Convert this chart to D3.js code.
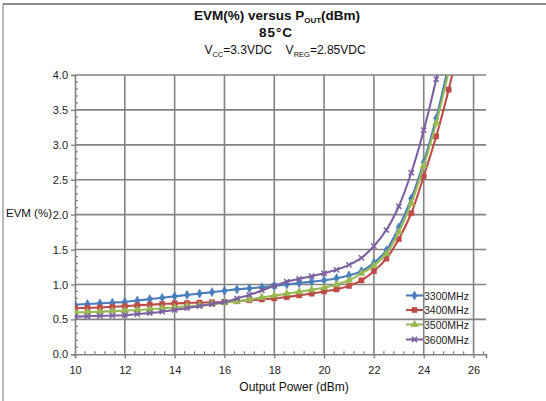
<!DOCTYPE html>
<html><head><meta charset="utf-8">
<script src="https://cdn.jsdelivr.net/npm/d3@7"></script>
<style>
html,body{margin:0;padding:0;background:#fff;}
svg{display:block;font-family:"Liberation Sans",Arial,sans-serif;}
</style></head>
<body><svg id="c" width="546" height="401"></svg>
<script>
const powers = [10,10.5,11,11.5,12,12.5,13,13.5,14,14.5,15,15.5,16,16.5,17,17.5,18,18.5,19,19.5,20,20.5,21,21.5,22,22.5,23,23.5,24,24.5,25,25.5];
const evm3300 = [0.71,0.72,0.73,0.74,0.75,0.77,0.79,0.81,0.83,0.85,0.87,0.89,0.91,0.93,0.945,0.96,0.98,1.0,1.02,1.04,1.06,1.09,1.13,1.19,1.31,1.49,1.82,2.23,2.75,3.38,4.15,null];
const evm3400 = [0.66,0.665,0.67,0.68,0.69,0.70,0.71,0.72,0.73,0.735,0.74,0.745,0.75,0.76,0.775,0.785,0.80,0.82,0.845,0.87,0.90,0.93,0.98,1.06,1.19,1.37,1.65,2.02,2.55,3.12,3.79,4.55];
const evm3500 = [0.60,0.605,0.61,0.62,0.625,0.635,0.645,0.66,0.67,0.69,0.70,0.72,0.74,0.76,0.785,0.815,0.84,0.87,0.895,0.925,0.955,1.0,1.06,1.16,1.27,1.44,1.75,2.16,2.70,3.31,4.05,null];
const evm3600 = [0.54,0.545,0.55,0.555,0.56,0.575,0.59,0.61,0.635,0.66,0.69,0.72,0.75,0.80,0.85,0.915,0.98,1.04,1.08,1.12,1.16,1.21,1.28,1.38,1.55,1.78,2.12,2.60,3.21,3.94,4.8,null];
const seriesNames = ["3300MHz","3400MHz","3500MHz","3600MHz"];
const seriesColors = ["#4a7ebb","#be4b48","#98b954","#7d60a0"];
const seriesMarkers = ["diamond","square","triangle","x"];
const xTicks = [10,12,14,16,18,20,22,24,26];
const yTicks = [0,0.5,1.0,1.5,2.0,2.5,3.0,3.5,4.0];

const svg = d3.select("#c");
const L=75, R=486, T=75, B=354.3;
const x = d3.scaleLinear().domain([10,26.5]).range([L,R]);
const y = d3.scaleLinear().domain([0,4]).range([B,T]);
const gridC="#828282";

// outer frame
svg.append("line").attr("x1",3).attr("x2",546).attr("y1",4).attr("y2",4).attr("stroke","#8a8a8a").attr("stroke-width",2);
svg.append("line").attr("x1",3).attr("x2",3).attr("y1",4).attr("y2",401).attr("stroke","#8a8a8a").attr("stroke-width",1.2);

// grid
svg.append("g").selectAll("line").data(yTicks.slice(1)).join("line")
  .attr("x1",L).attr("x2",R).attr("y1",d=>y(d)).attr("y2",d=>y(d))
  .attr("stroke",gridC).attr("stroke-width",1.6);
svg.append("g").selectAll("line").data(xTicks.slice(1)).join("line")
  .attr("x1",d=>x(d)).attr("x2",d=>x(d)).attr("y1",T).attr("y2",B)
  .attr("stroke",gridC).attr("stroke-width",1.6);

// axes
const yAx = d3.axisLeft(y).tickValues(yTicks).tickFormat(d3.format(".1f")).tickSize(4).tickPadding(3);
const gy = svg.append("g").attr("transform",`translate(${L},0)`).call(yAx);
const xAx = d3.axisBottom(x).tickValues(xTicks).tickFormat(d3.format("d")).tickSize(4).tickPadding(8);
const gx = svg.append("g").attr("transform",`translate(0,${B})`).call(xAx);
[gy,gx].forEach(g=>{
  g.select(".domain").attr("stroke",gridC).attr("stroke-width",1.6);
  g.selectAll(".tick line").attr("stroke",gridC).attr("stroke-width",1.4);
  g.selectAll(".tick text").attr("fill","#222").style("font-size","11px").style("font-family","'Liberation Sans',Arial,sans-serif");
});
// minor ticks (inside)
const yMinor = d3.range(0,40).map(i=>i/10).filter(v=>Math.round(v*10)%5!==0);
svg.append("g").selectAll("line").data(yMinor).join("line")
  .attr("x1",L).attr("x2",L+3).attr("y1",d=>y(d)).attr("y2",d=>y(d)).attr("stroke",gridC).attr("stroke-width",1.2);
const xMinor = d3.range(0,42).map(i=>10+i*0.4).filter(v=>v<26.5 && Math.abs(v/2-Math.round(v/2))>0.01);
svg.append("g").selectAll("line").data(xMinor).join("line")
  .attr("x1",d=>x(d)).attr("x2",d=>x(d)).attr("y1",B).attr("y2",B-3).attr("stroke",gridC).attr("stroke-width",1.2);

// clip
svg.append("clipPath").attr("id","pc").append("rect").attr("x",L).attr("y",T).attr("width",R-L).attr("height",B-T);

function markerPath(type, s){
  if(type==="diamond") return d3.symbol(d3.symbolDiamond, s*s*0.9)();
  if(type==="square") return d3.symbol(d3.symbolSquare, s*s*1.0)();
  if(type==="triangle") return d3.symbol(d3.symbolTriangle, s*s*0.9)();
  const h=s/2;
  return `M${-h},${-h}L${h},${h}M${-h},${h}L${h},${-h}`;
}
function drawMarker(g, type, color, cx, cy, s){
  const p = g.append("path").attr("d",markerPath(type,s)).attr("transform",`translate(${cx},${cy})`);
  if(type==="x") p.attr("fill","none").attr("stroke",color).attr("stroke-width",1.5);
  else p.attr("fill",color).attr("stroke",color).attr("stroke-width",0.5);
}

const allSeries=[evm3300,evm3400,evm3500,evm3600];
const line = d3.line().defined(d=>d[1]!=null).x(d=>x(d[0])).y(d=>y(d[1])).curve(d3.curveCatmullRom.alpha(0.5));
const plot = svg.append("g").attr("clip-path","url(#pc)");
allSeries.forEach((vals,i)=>{
  const pts = powers.map((p,k)=>[p,vals[k]]);
  plot.append("path").datum(pts).attr("d",line).attr("fill","none").attr("stroke",seriesColors[i]).attr("stroke-width",2.1);
  const mg = plot.append("g");
  pts.filter(d=>d[1]!=null).forEach(d=>drawMarker(mg,seriesMarkers[i],seriesColors[i],x(d[0]),y(d[1]),5.2));
});

// legend
const lg = svg.append("g");
const legY=[295.5,310,324.5,339.5];
seriesNames.forEach((n,i)=>{
  lg.append("line").attr("x1",406).attr("x2",423).attr("y1",legY[i]).attr("y2",legY[i]).attr("stroke",seriesColors[i]).attr("stroke-width",2.1);
  drawMarker(lg,seriesMarkers[i],seriesColors[i],414.5,legY[i],5.2);
  lg.append("text").attr("x",424).attr("y",legY[i]+4).text(n).style("font-size","10.5px").attr("fill","#222");
});

// titles
const t1 = svg.append("text").attr("x",277).attr("y",20).attr("text-anchor","middle").style("font-size","13.5px").style("font-weight","bold").attr("fill","#111");
t1.append("tspan").text("EVM(%) versus P");
t1.append("tspan").text("OUT").style("font-size","8px").attr("dy",3);
t1.append("tspan").text("(dBm)").attr("dy",-3);
svg.append("text").attr("x",276).attr("y",37).attr("text-anchor","middle").style("font-size","13.5px").style("font-weight","bold").attr("fill","#111").text("85°C").attr("letter-spacing","1px");
const t3 = svg.append("text").attr("x",285).attr("y",54).attr("text-anchor","middle").style("font-size","12px").attr("fill","#111");
t3.append("tspan").text("V");
t3.append("tspan").text("CC").style("font-size","7.5px").attr("dy",2.5);
t3.append("tspan").text("=3.3VDC\u00a0\u00a0\u00a0\u00a0V").attr("dy",-2.5);
t3.append("tspan").text("REG").style("font-size","7.5px").attr("dy",2.5);
t3.append("tspan").text("=2.85VDC").attr("dy",-2.5);

svg.append("text").attr("x",6).attr("y",217).text("EVM (%)").style("font-size","11.5px").attr("fill","#111");
svg.append("text").attr("x",294).attr("y",391).attr("text-anchor","middle").text("Output Power (dBm)").style("font-size","12px").attr("fill","#111");
</script></body></html>
